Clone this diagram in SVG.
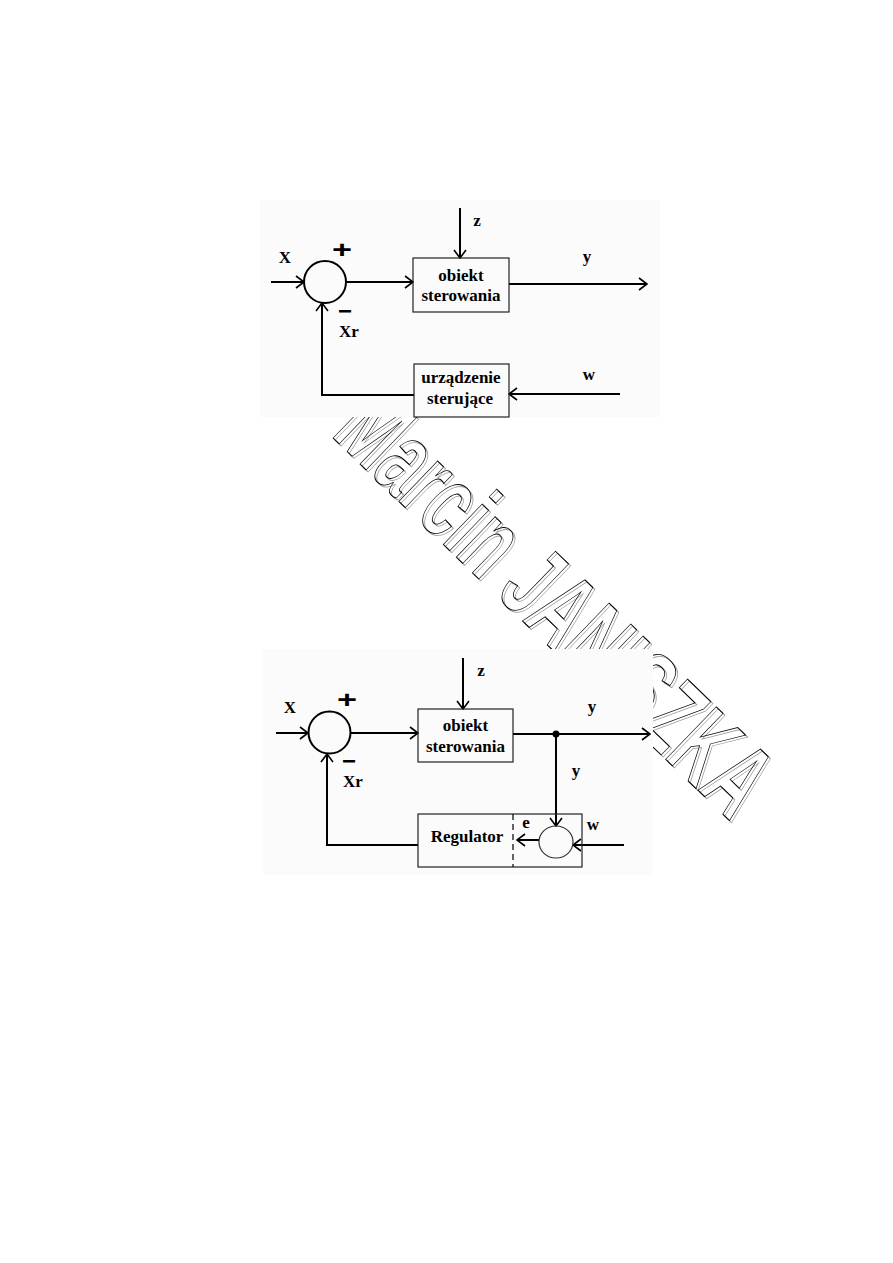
<svg xmlns="http://www.w3.org/2000/svg" width="893" height="1263" viewBox="0 0 893 1263">
<style>
.bg{fill:#fbfbfb;stroke:none}
.box{fill:none;stroke:#222;stroke-width:1.2}
.ln{fill:none;stroke:#000;stroke-width:2}
.lbl{font-family:"Liberation Serif","Times New Roman",serif;font-weight:bold;font-size:17px;fill:#000;text-anchor:middle}
.sym{font-family:"Liberation Sans",Arial,sans-serif;font-weight:bold;font-size:24px;fill:#000;text-anchor:middle}
.wm{font-family:"Liberation Sans",Arial,sans-serif;font-weight:bold;font-size:106px}
</style>
<defs>
<marker id="arr" viewBox="0 0 10 14" refX="9" refY="7" markerWidth="10" markerHeight="14" orient="auto" markerUnits="userSpaceOnUse">
<path d="M1,1 L9,7 L1,13" fill="none" stroke="#000" stroke-width="1.6"/>
</marker>
</defs>
<rect width="893" height="1263" fill="#fff"/>
<g id="watermark">
<text class="wm" transform="translate(332,437) rotate(44)" textLength="557" lengthAdjust="spacingAndGlyphs" fill="none" stroke="#999" stroke-width="1">Marcin JANISZKA</text>
<text class="wm" transform="translate(330,435) rotate(44)" textLength="557" lengthAdjust="spacingAndGlyphs" fill="none" stroke="#000" stroke-width="1">Marcin JANISZKA</text>
</g>
<rect class="bg" x="260" y="200" width="400" height="217"/>
<rect class="bg" x="263" y="649" width="390" height="226"/>
<g id="connectors">
<line class="ln" x1="271" y1="282" x2="304" y2="282" marker-end="url(#arr)"/>
<line class="ln" x1="346" y1="282" x2="413" y2="282" marker-end="url(#arr)"/>
<line class="ln" x1="460" y1="208" x2="460" y2="258" marker-end="url(#arr)"/>
<line class="ln" x1="509" y1="284" x2="647" y2="284" marker-end="url(#arr)"/>
<line class="ln" x1="620" y1="394" x2="509" y2="394" marker-end="url(#arr)"/>
<polyline class="ln" points="414,395 322,395 322,303" marker-end="url(#arr)"/>
<line class="ln" x1="276" y1="733" x2="308" y2="733" marker-end="url(#arr)"/>
<line class="ln" x1="351" y1="733" x2="418" y2="733" marker-end="url(#arr)"/>
<line class="ln" x1="463" y1="658" x2="463" y2="709" marker-end="url(#arr)"/>
<line class="ln" x1="513" y1="734" x2="650" y2="734" marker-end="url(#arr)"/>
<line class="ln" x1="556" y1="734" x2="556" y2="826" marker-end="url(#arr)"/>
<circle cx="556" cy="734" r="3.5" fill="#000"/>
<line class="ln" x1="624" y1="845" x2="573" y2="845" marker-end="url(#arr)"/>
<line class="ln" x1="539" y1="840" x2="517" y2="840" marker-end="url(#arr)"/>
<polyline class="ln" points="418,845 327,845 327,754" marker-end="url(#arr)"/>
</g>
<g id="sum1">
<circle cx="325" cy="282" r="21" fill="none" stroke="#000" stroke-width="2"/>
<text class="sym" x="342" y="257.5" textLength="20" lengthAdjust="spacingAndGlyphs">+</text>
<text class="sym" x="345" y="318.5">−</text>
</g>
<g id="obiekt1">
<rect class="box" x="413" y="258" width="96" height="54"/>
<text class="lbl" x="461" y="281">obiekt</text>
<text class="lbl" x="461" y="301">sterowania</text>
</g>
<g id="urzadzenie">
<rect class="box" x="414" y="364" width="95" height="53"/>
<text class="lbl" x="461" y="383">urządzenie</text>
<text class="lbl" x="460" y="404">sterujące</text>
</g>
<g id="labels1">
<text class="lbl" x="285" y="263">X</text>
<text class="lbl" x="477" y="226">z</text>
<text class="lbl" x="587" y="262">y</text>
<text class="lbl" x="589" y="380">w</text>
<text class="lbl" x="349" y="337">Xr</text>
</g>
<g id="sum2">
<circle cx="329.5" cy="732.5" r="21" fill="none" stroke="#000" stroke-width="2"/>
<text class="sym" x="347" y="707.5" textLength="20" lengthAdjust="spacingAndGlyphs">+</text>
<text class="sym" x="349" y="768.5">−</text>
</g>
<g id="obiekt2">
<rect class="box" x="418" y="709" width="95" height="53"/>
<text class="lbl" x="465.5" y="731">obiekt</text>
<text class="lbl" x="465.5" y="752">sterowania</text>
</g>
<g id="regulator">
<rect class="box" x="418" y="814" width="164" height="53"/>
<line x1="513" y1="814" x2="513" y2="867" stroke="#000" stroke-width="1.2" stroke-dasharray="6,4"/>
<text class="lbl" x="467" y="842">Regulator</text>
</g>
<g id="comparator">
<ellipse cx="556" cy="842" rx="17" ry="16" fill="none" stroke="#333" stroke-width="1.2"/>
</g>
<g id="labels2">
<text class="lbl" x="290" y="713">X</text>
<text class="lbl" x="481" y="676">z</text>
<text class="lbl" x="592" y="712">y</text>
<text class="lbl" x="576" y="776">y</text>
<text class="lbl" x="353" y="787">Xr</text>
<text class="lbl" x="526" y="828">e</text>
<text class="lbl" x="593" y="830">w</text>
</g>
</svg>
